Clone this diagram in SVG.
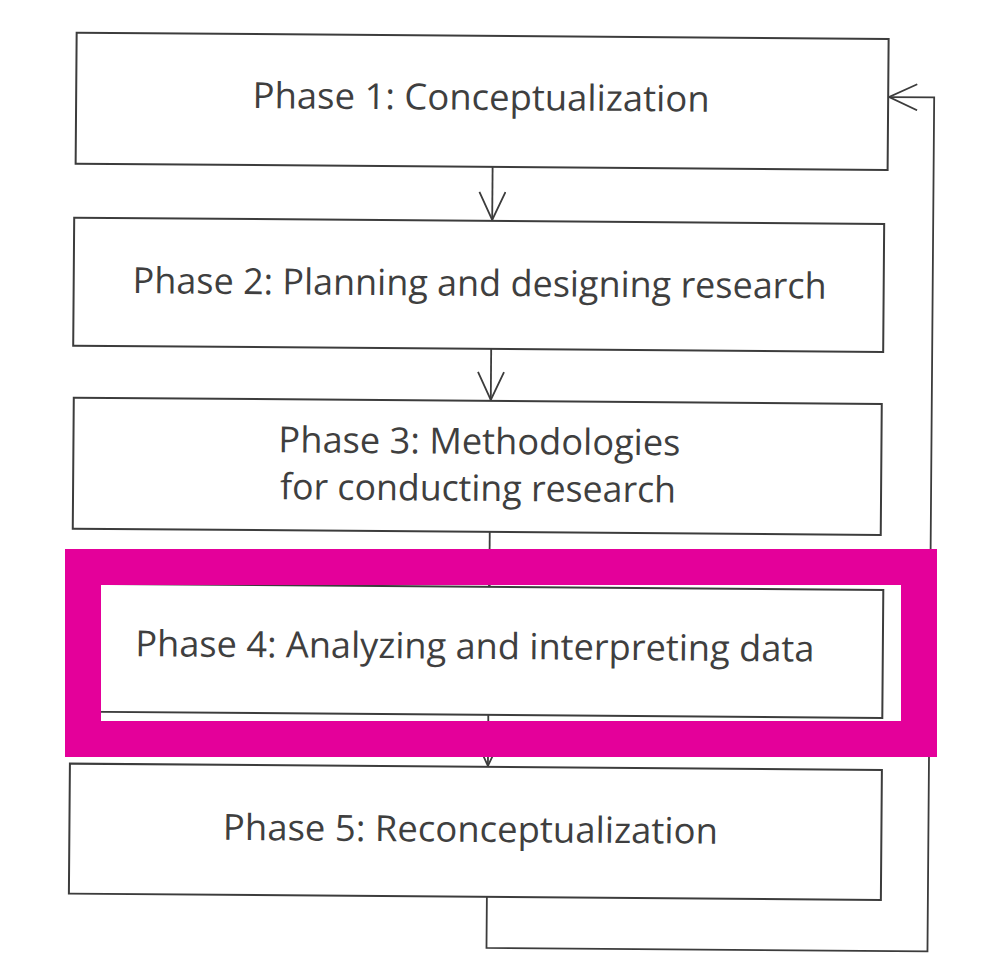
<svg xmlns="http://www.w3.org/2000/svg" width="999" height="980" viewBox="0 0 999 980">
  <defs>
    <style>
      .box { fill: none; stroke: #3c3c3c; stroke-width: 2; }
      .wire { fill: none; stroke: #3c3c3c; stroke-width: 1.8; }
      .head { fill: none; stroke: #3c3c3c; stroke-width: 1.8; stroke-linejoin: miter; }
      .label { font-family: "Open Sans", "Liberation Sans", sans-serif; font-size: 36px; fill: #3f3f3f; text-anchor: middle; }
      .mark { fill: none; stroke: #e4009a; stroke-width: 36; }
    </style>
    <marker id="open-arrow" viewBox="0 0 30 28" refX="29" refY="14" markerWidth="30" markerHeight="28" markerUnits="userSpaceOnUse" orient="auto">
      <path class="head" d="M1,1 L29,14 L1,27"/>
    </marker>
  </defs>

  <rect width="999" height="980" fill="#ffffff"/>

  <!-- the printed figure sits at a slight tilt -->
  <g transform="rotate(0.45 500 500)">
    <g id="connectors">
      <line class="wire" x1="490" y1="167" x2="490" y2="220" marker-end="url(#open-arrow)"/>
      <line class="wire" x1="490" y1="349" x2="490" y2="400" marker-end="url(#open-arrow)"/>
      <line class="wire" x1="490" y1="532" x2="490" y2="586" marker-end="url(#open-arrow)"/>
      <line class="wire" x1="490" y1="715" x2="490" y2="766" marker-end="url(#open-arrow)"/>
      <polyline class="wire" points="490,897 490,948 931,948 931,94 886,94" marker-end="url(#open-arrow)"/>
    </g>

    <g id="phase1">
      <rect class="box" x="73" y="36" width="812" height="131"/>
      <text class="label" x="478" y="110" textLength="457" lengthAdjust="spacingAndGlyphs">Phase 1: Conceptualization</text>
    </g>

    <g id="phase2">
      <rect class="box" x="72" y="221" width="810" height="128"/>
      <text class="label" x="478" y="296" textLength="694" lengthAdjust="spacingAndGlyphs">Phase 2: Planning and designing research</text>
    </g>

    <g id="phase3">
      <rect class="box" x="73" y="401" width="808" height="131"/>
      <text class="label" x="479" y="454" textLength="402" lengthAdjust="spacingAndGlyphs">Phase 3: Methodologies</text>
      <text class="label" x="478" y="501" textLength="396" lengthAdjust="spacingAndGlyphs">for conducting research</text>
    </g>

    <g id="phase4">
      <rect class="box" x="72" y="587" width="812" height="128"/>
      <text class="label" x="476" y="659" textLength="679" lengthAdjust="spacingAndGlyphs">Phase 4: Analyzing and interpreting data</text>
    </g>

    <g id="phase5">
      <rect class="box" x="72" y="767" width="812" height="130"/>
      <text class="label" x="473" y="842" textLength="495" lengthAdjust="spacingAndGlyphs">Phase 5: Reconceptualization</text>
    </g>
  </g>

  <!-- highlight frame around phase 4 -->
  <g id="highlight">
    <rect class="mark" x="83" y="567" width="836" height="172"/>
  </g>
</svg>
